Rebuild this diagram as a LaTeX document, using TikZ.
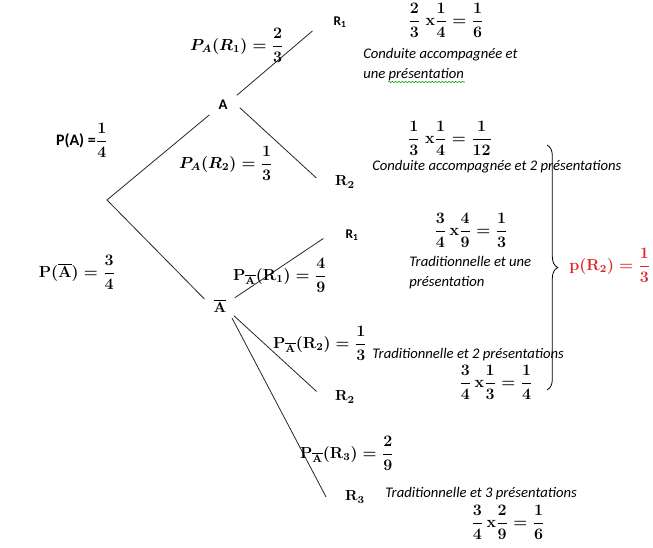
\documentclass[tikz,border=0pt]{standalone}
\usepackage{xcolor}
\usepackage{amsmath}
\usepackage{fontspec}
\setmainfont{Carlito}
\usepackage{tikz}
\usetikzlibrary{decorations.pathreplacing, decorations.pathmorphing}

\definecolor{resultred}{RGB}{224,36,36}

\begin{document}
\begin{tikzpicture}[x=0.75pt, y=-0.75pt,
    knot/.style={circle, inner sep=0pt, minimum size=25pt, font=\fontsize{11}{13}\selectfont\bfseries\boldmath},
    leaf/.style={circle, inner sep=0pt, minimum size=43pt, font=\fontsize{11}{13}\selectfont\bfseries\boldmath},
    branch/.style={line width=0.6pt, black!85},
    prob/.style={inner sep=0pt, font=\fontsize{12}{14}\selectfont\boldmath},
    remark/.style={anchor=west, align=left, inner sep=0pt, font=\fontsize{11}{15}\selectfont\itshape}]

    \useasboundingbox (0,0) rectangle (653,548);

    % Nodes
    \coordinate (root) at (107,200);
    \node[knot] (A) at (223,105) {A};
    \node[knot] (Abar) at (220,306) {$\overline{\mathbf{A}}$};

    \node[leaf, font=\fontsize{10}{12}\selectfont\bfseries] (R1a) at (340,22) {R\textsubscript{1}};
    \node[leaf] (R2a) at (345,182) {$\mathbf{R}_{\mathbf{2}}$};
    \node[leaf, font=\fontsize{10}{12}\selectfont\bfseries] (R1b) at (352,235) {R\textsubscript{1}};
    \node[leaf] (R2b) at (345,397) {$\mathbf{R}_{\mathbf{2}}$};
    \node[leaf] (R3) at (355,497) {$\mathbf{R}_{\mathbf{3}}$};

    % Branches
    \draw[branch] (root) -- (A.216);
    \draw[branch] (root) -- (Abar.156);
    \draw[branch] (A.35) -- (R1a.198);
    \draw[branch] (A.-9) -- (R2a.172);
    \draw[branch] (Abar.29) -- (R1b.187);
    \draw[branch] (Abar.-35) -- (R2b.169);
    \draw[branch] (Abar.-45) -- (R3.180);

    % Probabilities on the branches
    \node[prob] (pA) at (82,140) {\textbf{P(A) =}$\dfrac{1}{4}$};
    \node[prob] (pAbar) at (77,272) {$\mathbf{P}(\overline{\mathbf{A}})=\dfrac{3}{4}$};
    \node[prob] (pAR1) at (237,45) {$P_A(R_1)=\dfrac{2}{3}$};
    \node[prob] (pAR2) at (226,163) {$P_A(R_2)=\dfrac{1}{3}$};
    \node[prob] (pAbarR1) at (280,275) {$\mathbf{P}_{\overline{\mathbf{A}}}(\mathbf{R}_1)=\dfrac{4}{9}$};
    \node[prob] (pAbarR2) at (320,343) {$\mathbf{P}_{\overline{\mathbf{A}}}(\mathbf{R}_2)=\dfrac{1}{3}$};
    \node[prob] (pAbarR3) at (347,453) {$\mathbf{P}_{\overline{\mathbf{A}}}(\mathbf{R}_3)=\dfrac{2}{9}$};

    % Products
    \node[prob] (f1) at (446,20) {$\dfrac{2}{3}\;\mathbf{x}\dfrac{1}{4}=\dfrac{1}{6}$};
    \node[prob] (f2) at (450,138) {$\dfrac{1}{3}\;\mathbf{x}\dfrac{1}{4}=\dfrac{1}{12}$};
    \node[prob] (f3) at (471,230) {$\dfrac{3}{4}\,\mathbf{x}\dfrac{4}{9}=\dfrac{1}{3}$};
    \node[prob] (f4) at (496,382) {$\dfrac{3}{4}\,\mathbf{x}\dfrac{1}{3}=\dfrac{1}{4}$};
    \node[prob] (f5) at (508,522) {$\dfrac{3}{4}\,\mathbf{x}\dfrac{2}{9}=\dfrac{1}{6}$};

    % Remarks
    \node[remark] (t1) at (363,65) {Conduite accompagnée et\\une présentation};
    \draw[green!60!black, line width=0.4pt, decorate, decoration={snake, amplitude=0.5pt, segment length=2.5pt}] (388,82) -- (465,82);
    \node[remark] (t2) at (372,167) {Conduite accompagnée et 2 présentations};
    \node[remark] (t3) at (409,273) {Traditionnelle et une\\présentation};
    \node[remark] (t4) at (372,355) {Traditionnelle et 2 présentations};
    \node[remark] (t5) at (385,494) {Traditionnelle et 3 présentations};

    % Sum of the R2 cases
    \coordinate (bracetop) at (547,145);
    \coordinate (bracebot) at (547,390);
    \draw[line width=0.6pt, decorate, decoration={brace, amplitude=8pt}] (bracetop) -- (bracebot);
    \node[prob, text=resultred] (pR2) at (610,265) {$\mathbf{p}(\mathbf{R}_{\mathbf{2}})=\dfrac{1}{3}$};

\end{tikzpicture}
\end{document}
